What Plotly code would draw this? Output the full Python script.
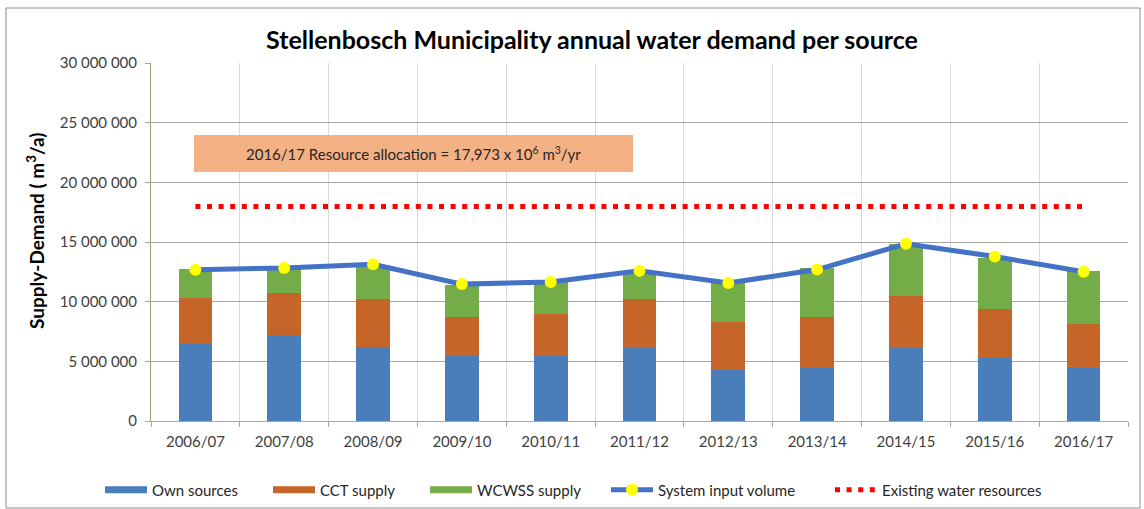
import plotly.graph_objects as go

years = ["2006/07", "2007/08", "2008/09", "2009/10", "2010/11", "2011/12",
         "2012/13", "2013/14", "2014/15", "2015/16", "2016/17"]
own_sources = [6420000, 7170000, 6200000, 5440000, 5440000, 6110000,
               4300000, 4420000, 6080000, 5250000, 4440000]
cct_supply = [3860000, 3580000, 4000000, 3310000, 3530000, 4140000,
              4030000, 4330000, 4390000, 4110000, 3670000]
wcwss_supply = [2420000, 2050000, 2850000, 2640000, 2780000, 2190000,
                3270000, 4030000, 4390000, 4340000, 4450000]
system_input = [12680000, 12820000, 13140000, 11470000, 11650000, 12580000,
                11560000, 12690000, 14850000, 13780000, 12500000]
existing_resources = [17973000] * 11
y_ticks = [0, 5000000, 10000000, 15000000, 20000000, 25000000, 30000000]

FONT = "Lato"
C_BLUE = "#4A7EBB"
C_ORANGE = "#C5652A"
C_GREEN = "#74AD47"
C_LINE = "#4472C4"

fig = go.Figure()
fig.add_trace(go.Bar(x=years, y=own_sources, name="Own sources",
                     marker_color=C_BLUE, marker_line_width=0, width=0.38,
                     showlegend=False))
fig.add_trace(go.Bar(x=years, y=cct_supply, name="CCT supply",
                     marker_color=C_ORANGE, marker_line_width=0, width=0.38,
                     showlegend=False))
fig.add_trace(go.Bar(x=years, y=wcwss_supply, name="WCWSS supply",
                     marker_color=C_GREEN, marker_line_width=0, width=0.38,
                     showlegend=False))
fig.add_trace(go.Scatter(x=years, y=system_input, name="System input volume",
                         mode="lines+markers",
                         line=dict(color=C_LINE, width=5),
                         marker=dict(color="#FFFF00", size=12, line=dict(width=0)),
                         showlegend=False))
fig.add_trace(go.Scatter(x=years, y=existing_resources, name="Existing water resources",
                         mode="lines",
                         line=dict(color="#FF0000", width=5, dash="5px,6.6px"),
                         showlegend=False))

# legend entries (each in its own legend to place them like the original)
legend_specs = [
    ("Own sources", dict(mode="lines", line=dict(color=C_BLUE, width=7)), 152),
    ("CCT supply", dict(mode="lines", line=dict(color=C_ORANGE, width=7)), 320),
    ("WCWSS supply", dict(mode="lines", line=dict(color=C_GREEN, width=7)), 477),
    ("System input volume", dict(mode="lines+markers", line=dict(color=C_LINE, width=5),
                                 marker=dict(color="#FFFF00", size=12, line=dict(width=0))), 658),
    ("Existing water resources", dict(mode="lines",
                                      line=dict(color="#FF0000", width=5, dash="5px,6.6px")), 882),
]
W, H = 1144, 509
for i, (nm, kw, px) in enumerate(legend_specs):
    lg = "legend" if i == 0 else f"legend{i+1}"
    fig.add_trace(go.Scatter(x=[None], y=[None], name=nm, legend=lg, showlegend=True, **kw))
    fig.update_layout({lg: dict(x=(px - 52) / W, xref="container", xanchor="left",
                                y=1 - 490 / H, yref="container", yanchor="middle",
                                orientation="h", bgcolor="rgba(0,0,0,0)",
                                font=dict(family=FONT, size=15, color="#262626"),
                                itemwidth=42)})

L, T, R, B = 151, 63, 1128, 421
pw, ph = R - L, B - T

# outer border
fig.add_shape(type="rect", xref="paper", yref="paper",
              x0=(6 - L) / pw, x1=(1140 - L) / pw,
              y0=(B - 508) / ph, y1=(B - 8) / ph,
              line=dict(color="#8C8C8C", width=1), fillcolor="rgba(0,0,0,0)", layer="below")
# resource allocation box
fig.add_shape(type="rect", xref="paper", yref="paper",
              x0=(194 - L) / pw, x1=(633 - L) / pw,
              y0=(B - 172) / ph, y1=(B - 135) / ph,
              line=dict(width=0), fillcolor="#F4B183", layer="above")
fig.add_annotation(xref="paper", yref="paper",
                   x=((194 + 633) / 2 - L) / pw, y=(B - 153.5) / ph,
                   text="2016/17 Resource allocation = 17,973 x 10<sup>6</sup> m<sup>3</sup>/yr",
                   showarrow=False, font=dict(family=FONT, size=15, color="#262626"),
                   xanchor="center", yanchor="middle")
# y-axis title
fig.add_annotation(xref="paper", yref="paper",
                   x=(36 - L) / pw, y=(B - 231) / ph,
                   text="<b>Supply-Demand ( m<sup>3</sup>/a)</b>", textangle=-90,
                   showarrow=False, font=dict(family=FONT, size=19, color="#000000"),
                   xanchor="center", yanchor="middle")

fig.update_layout(
    width=W, height=H,
    barmode="stack",
    separators=". ",
    paper_bgcolor="white", plot_bgcolor="white",
    margin=dict(l=L, r=W - R, t=T, b=H - B, autoexpand=False),
    title=dict(text="<b>Stellenbosch Municipality annual water demand per source</b>",
               x=(592) / W, xanchor="center", y=1 - 40 / H, yanchor="middle",
               font=dict(family=FONT, size=25, color="#000000")),
    font=dict(family=FONT, color="#404040"),
)
fig.update_xaxes(type="category", tickson="boundaries", showgrid=True,
                 gridcolor="#D9D9D9", gridwidth=1,
                 showline=True, linecolor="#A6A6A6", linewidth=1,
                 ticks="outside", ticklen=5, tickcolor="#A6A6A6",
                 ticklabelstandoff=7,
                 tickfont=dict(family=FONT, size=15, color="#404040"),
                 range=[-0.5, 10.5], fixedrange=True)
fig.update_yaxes(range=[0, 30000000], tickvals=y_ticks, tickformat=",d",
                 showgrid=True, gridcolor="#A6A6A6", gridwidth=1,
                 showline=True, linecolor="#8EA47E", linewidth=1,
                 ticks="outside", ticklen=5, tickcolor="#A6A6A6",
                 ticklabelstandoff=5,
                 tickfont=dict(family=FONT, size=15, color="#404040"),
                 zeroline=False, fixedrange=True)

fig.write_html("out.html", post_script="document.body.style.margin='0px';",
               config={"displayModeBar": False})
